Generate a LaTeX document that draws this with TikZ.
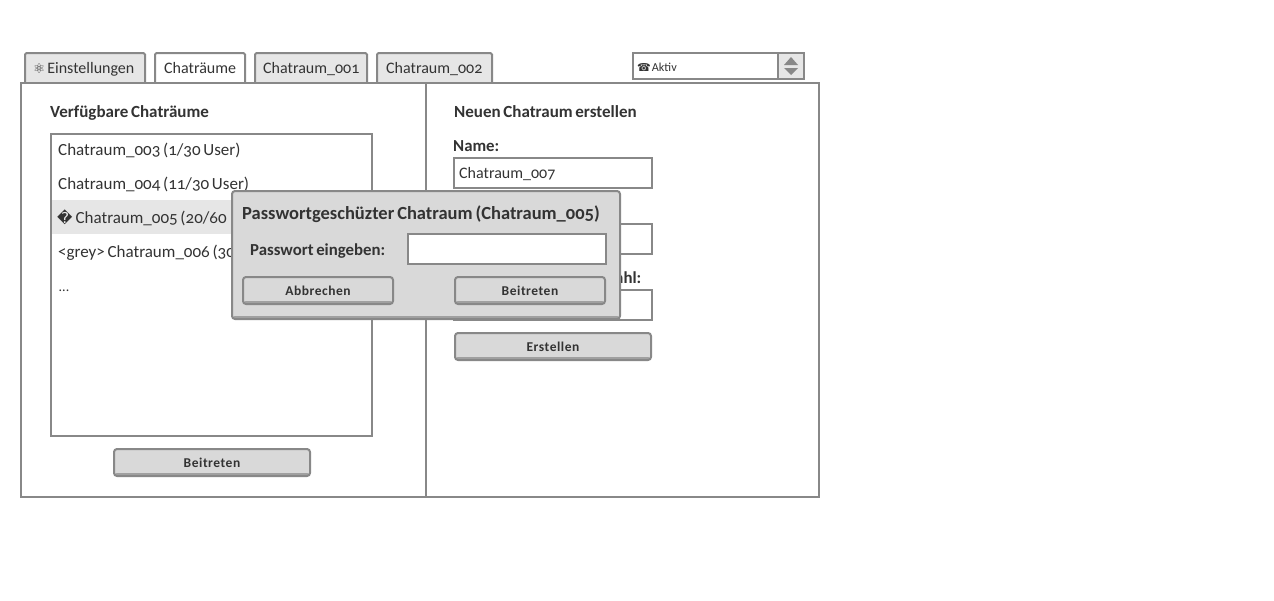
\documentclass[tikz,border=0pt]{standalone}
\usepackage{fontspec}
\setmainfont[Numbers=OldStyle,WordSpace=0.7]{Carlito}
\newfontfamily\symfont{DejaVu Sans}
\newfontfamily\btnfont[Numbers=OldStyle,LetterSpace=4]{Carlito}
\definecolor{linegray}{HTML}{888888}
\definecolor{lipgray}{HTML}{A0A0A0}
\definecolor{textgray}{HTML}{333333}
\definecolor{tabgray}{HTML}{E6E6E6}
\definecolor{btngray}{HTML}{D9D9D9}
\tikzset{
	box/.style={draw=linegray,line width=2pt,fill=white,inner sep=0pt},
	tabline/.style={draw=linegray,line width=2pt,rounded corners=1.5pt},
	btn/.style={draw=linegray,line width=2pt,fill=btngray,rounded corners=3pt,inner sep=0pt,
		text=textgray,font=\btnfont\bfseries\fontsize{13.5}{16}\selectfont,
		path picture={\fill[lipgray] ([yshift=3pt]path picture bounding box.south west)
			rectangle (path picture bounding box.south east);}},
	txt/.style={anchor=base west,inner sep=0pt,text=textgray,font=\fontsize{17}{20}\selectfont},
	tabtxt/.style={txt,font=\fontsize{16}{20}\selectfont},
	head/.style={txt,font=\bfseries\fontsize{17}{20}\selectfont},
	label/.style={txt,font=\bfseries\fontsize{16.8}{20}\selectfont},
}
\begin{document}
\begin{tikzpicture}[x=1pt,y=-1pt]
	\useasboundingbox (0,0) rectangle (1274,600);
	% tabs
	\foreach \l/\r/\c in {25/145/tabgray,155/245/white,255/367/tabgray,377/492/tabgray}
		\draw[tabline,fill=\c] (\l,84)--(\l,53)--(\r,53)--(\r,84);
	\node[tabtxt] (tabSettings) at (33,73) {{\symfont\fontsize{13.5}{14}\selectfont ⚛}\hspace{2pt}Einstellungen};
	\node[tabtxt] (tabRooms) at (164,73) {Chaträume};
	\node[tabtxt] (tabRoomA) at (263,73) {Chatraum\_001};
	\node[tabtxt] (tabRoomB) at (386,73) {Chatraum\_002};
	% status box
	\fill[tabgray] (778,53) rectangle (804,79);
	\draw[box,fill=none] (633,53) rectangle (804,79);
	\draw[linegray,line width=2pt] (778,53)--(778,79);
	\fill[linegray] (791,57)--(798,65)--(784,65)--cycle;
	\fill[linegray] (784,68)--(798,68)--(791,75)--cycle;
	\node[txt,font=\fontsize{12.2}{14}\selectfont] (status) at (637,71) {{\symfont\fontsize{11}{12}\selectfont ☎}\hspace{1pt}Aktiv};
	% panes
	\draw[box] (21,83) rectangle (819,497);
	\draw[linegray,line width=2pt] (426,83)--(426,497);
	% left pane
	\node[head] (roomsHead) at (50,117) {Verfügbare Chaträume};
	\draw[box] (51,134) rectangle (372,436);
	\fill[tabgray] (52,200) rectangle (371,234);
	\node[txt] (roomC) at (58,155) {Chatraum\_003 (1/30 User)};
	\node[txt] (roomD) at (58,189) {Chatraum\_004 (11/30 User)};
	\node[txt] (roomE) at (57,223) {{\symfont\fontsize{15}{16}\selectfont �}\hspace{3pt}Chatraum\_005 (20/60};
	\node[txt] (roomF) at (58,257) {<grey> Chatraum\_006 (30};
	\node[txt,font=\fontsize{14}{16}\selectfont] (roomMore) at (58.5,291) {...};
	\node[btn,minimum width=196pt,minimum height=27pt] (joinList) at (212,462.5) {Beitreten};
	% right pane
	\node[head] (newHead) at (454,117) {Neuen Chatraum erstellen};
	\node[label] (nameLabel) at (453,151) {Name:};
	\node[box,minimum width=198pt,minimum height=30pt] (nameInput) at (553,173) {};
	\node[txt,font=\fontsize{16}{18}\selectfont] (nameText) at (459,178) {Chatraum\_007};
	\node[box,minimum width=198pt,minimum height=30pt] (pwInput) at (553,239) {};
	\node[label,anchor=base east] (countLabel) at (641.5,283) {ahl:};
	\node[box,minimum width=198pt,minimum height=30pt] (countInput) at (553,305) {};
	\node[btn,minimum width=196pt,minimum height=27pt] (create) at (553,346.5) {Erstellen};
	% dialog
	\node[btn,minimum width=388pt,minimum height=128pt] (dialog) at (426,255) {};
	\node[head,font=\bfseries\fontsize{18.5}{22}\selectfont] (dialogHead) at (242,219) {Passwortgeschüzter Chatraum (Chatraum\_005)};
	\node[label] (pwLabel) at (250,255) {Passwort eingeben:};
	\node[box,minimum width=198pt,minimum height=30pt] (dialogInput) at (507,249) {};
	\node[btn,minimum width=150pt,minimum height=27pt] (cancel) at (318,290.5) {Abbrechen};
	\node[btn,minimum width=150pt,minimum height=27pt] (join) at (530,290.5) {Beitreten};
\end{tikzpicture}
\end{document}
